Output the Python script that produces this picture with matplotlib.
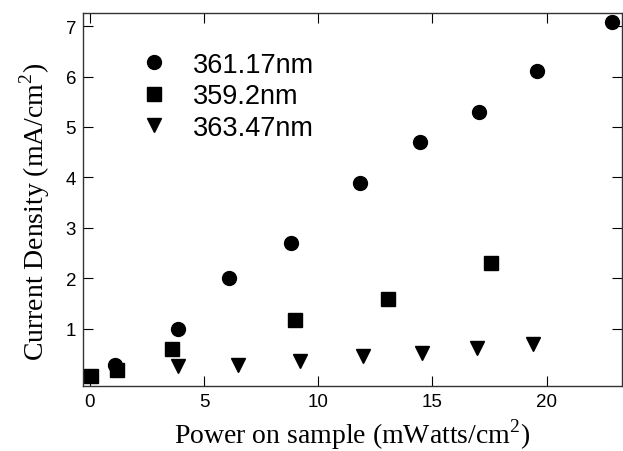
import matplotlib
matplotlib.use('Agg')
import matplotlib.pyplot as plt

plt.rcParams['font.family'] = ['Liberation Sans', 'DejaVu Sans']
plt.rcParams['mathtext.fontset'] = 'custom'
plt.rcParams['mathtext.rm'] = 'Liberation Serif'

# data
power_a = [1.1, 3.85, 6.1, 8.8, 11.85, 14.45, 17.05, 19.6, 22.85]
dens_a = [0.27, 1.0, 2.0, 2.7, 3.88, 4.70, 5.29, 6.10, 7.09]
power_b = [0.03, 1.17, 3.62, 8.98, 13.05, 17.55]
dens_b = [0.06, 0.18, 0.60, 1.17, 1.59, 2.30]
power_c = [3.84, 6.5, 9.2, 11.95, 14.55, 16.95, 19.4]
dens_c = [0.25, 0.28, 0.36, 0.45, 0.51, 0.61, 0.69]
labels = ['361.17nm', '359.2nm', '363.47nm']

fig = plt.figure(figsize=(6.23, 4.52), dpi=100)
ax = fig.add_axes([0.1332, 0.1438, 0.865, 0.8252])

ax.plot(power_a, dens_a, 'o', color='black', markersize=10, label=labels[0])
ax.plot(power_b, dens_b, 's', color='black', markersize=10, label=labels[1])
ax.plot(power_c, dens_c, 'v', color='black', markersize=10.5, label=labels[2])

ax.set_xlim(-0.3, 23.3)
ax.set_ylim(-0.14, 7.26)
ax.set_xticks([0, 5, 10, 15, 20])
ax.set_yticks([1, 2, 3, 4, 5, 6, 7])
ax.tick_params(direction='in', top=True, right=True, length=7, labelsize=13.5, pad=5)
for s in ax.spines.values():
    s.set_color('#333333')
    s.set_linewidth(1)

ax.set_xlabel('Power on sample (mWatts/cm$^{2}$)', family='Liberation Serif', fontsize=20, labelpad=5)
ax.set_ylabel('Current Density (mA/cm$^{2}$)', family='Liberation Serif', fontsize=20)
ax.yaxis.set_label_coords(-0.058, 0.47)

ax.legend(loc='upper left', bbox_to_anchor=(0.061, 0.925), frameon=False, fontsize=19.5,
          handletextpad=0.45, labelspacing=0.2, borderaxespad=0)

fig.savefig('out.png', dpi=100)
